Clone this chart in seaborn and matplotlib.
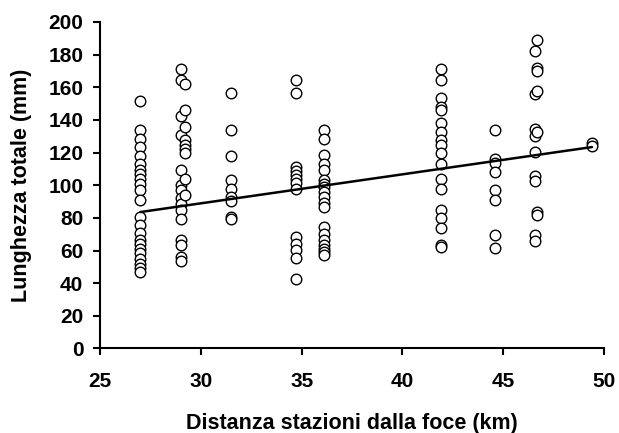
import numpy as np
import pandas as pd
import matplotlib
matplotlib.use("Agg")
import matplotlib.pyplot as plt
import seaborn as sns

# distanza stazione (km) e lunghezze totali (mm)
st_27 = [151.6, 133.7, 128.6, 123.5, 117.9, 112.9, 109.6, 106.7, 104.1, 101.0, 96.9, 90.8,
         80.6, 75.5, 70.8, 66.3, 64.3, 61.2, 58.2, 55.1, 51.6, 49.0, 46.9]
st_29 = [171.5, 164.3, 142.3, 130.6, 109.2, 100.0, 96.9, 91.9, 88.8, 84.7, 79.6, 66.3, 63.3, 56.1, 53.7]
st_29b = [161.8, 145.9, 135.7, 127.6, 124.5, 121.9, 119.8, 104.1, 93.9]
st_315 = [156.2, 134.1, 117.8, 103.2, 98.0, 92.8, 90.4, 80.6, 79.6]
st_347 = [164.3, 156.2, 111.2, 108.8, 106.2, 104.1, 101.2, 97.6, 68.3, 64.3, 60.6, 55.7, 42.3]
st_361 = [134.1, 128.6, 118.4, 113.3, 109.2, 103.1, 101.0, 99.0, 95.9, 92.5, 89.2, 86.4,
          74.5, 70.4, 66.3, 63.3, 61.2, 59.2, 57.1]
st_419 = [171.5, 164.7, 153.7, 148.0, 145.9, 138.1, 132.6, 128.0, 124.5, 119.8, 112.9,
          104.1, 98.0, 84.7, 80.2, 74.1, 63.3, 62.0]
st_446 = [134.1, 116.3, 113.6, 108.1, 96.9, 91.2, 69.4, 61.8]
st_466 = [182.3, 156.0, 134.7, 130.0, 120.4, 105.5, 102.6, 69.4, 66.1]
st_467 = [188.8, 172.1, 170.0, 157.6, 132.6, 83.5, 81.5]
st_494 = [126.0, 124.0]

stazioni = {27.0: st_27, 29.0: st_29, 29.2: st_29b, 31.5: st_315, 34.7: st_347, 36.1: st_361,
            41.9: st_419, 44.6: st_446, 46.6: st_466, 46.7: st_467, 49.4: st_494}

# retta di regressione come appare nel grafico (y = a + b*x)
reg_a = 35.6
reg_b = 1.777

df = pd.DataFrame([(k, v) for k, vals in stazioni.items() for v in vals], columns=["km", "mm"])
km_range = np.array([df["km"].min(), df["km"].max()])
retta = pd.DataFrame({"km": km_range, "mm": reg_a + reg_b * km_range})

sns.set_style("ticks")
plt.rcParams['font.family'] = ['Liberation Sans', 'DejaVu Sans']
plt.rcParams['font.weight'] = 'bold'
plt.rcParams['text.color'] = 'black'
plt.rcParams['axes.labelcolor'] = 'black'

fig = plt.figure(figsize=(6.19, 4.33), dpi=100)
ax = fig.add_axes([0.1616, 0.1952, 0.8142, 0.754])

sns.scatterplot(data=df, x="km", y="mm", ax=ax, s=58, facecolor="white",
                edgecolor="black", linewidth=1, zorder=2)
sns.lineplot(data=retta, x="km", y="mm", ax=ax, color="black", lw=1.8, zorder=3)

ax.set_xlim(25, 50)
ax.set_ylim(0, 200)
ax.set_xticks(np.arange(25, 51, 5))
ax.set_yticks(np.arange(0, 201, 20))
ax.tick_params(direction="out", length=5, width=1.5, labelsize=15,
               colors="black", labelcolor="black")
ax.tick_params(axis="x", pad=12)
ax.tick_params(axis="y", pad=7)
for s in ["left", "bottom"]:
    ax.spines[s].set_linewidth(1.5)
    ax.spines[s].set_color("black")
sns.despine(ax=ax)
ax.set_xlabel("Distanza stazioni dalla foce (km)", fontsize=15.5, fontweight="bold",
              labelpad=16, color="black")
ax.set_ylabel("Lunghezza totale (mm)", fontsize=15.5, fontweight="bold",
              labelpad=12, color="black")
for lab in ax.get_xticklabels() + ax.get_yticklabels():
    lab.set_fontweight("bold")

fig.savefig("out.png", dpi=100)
